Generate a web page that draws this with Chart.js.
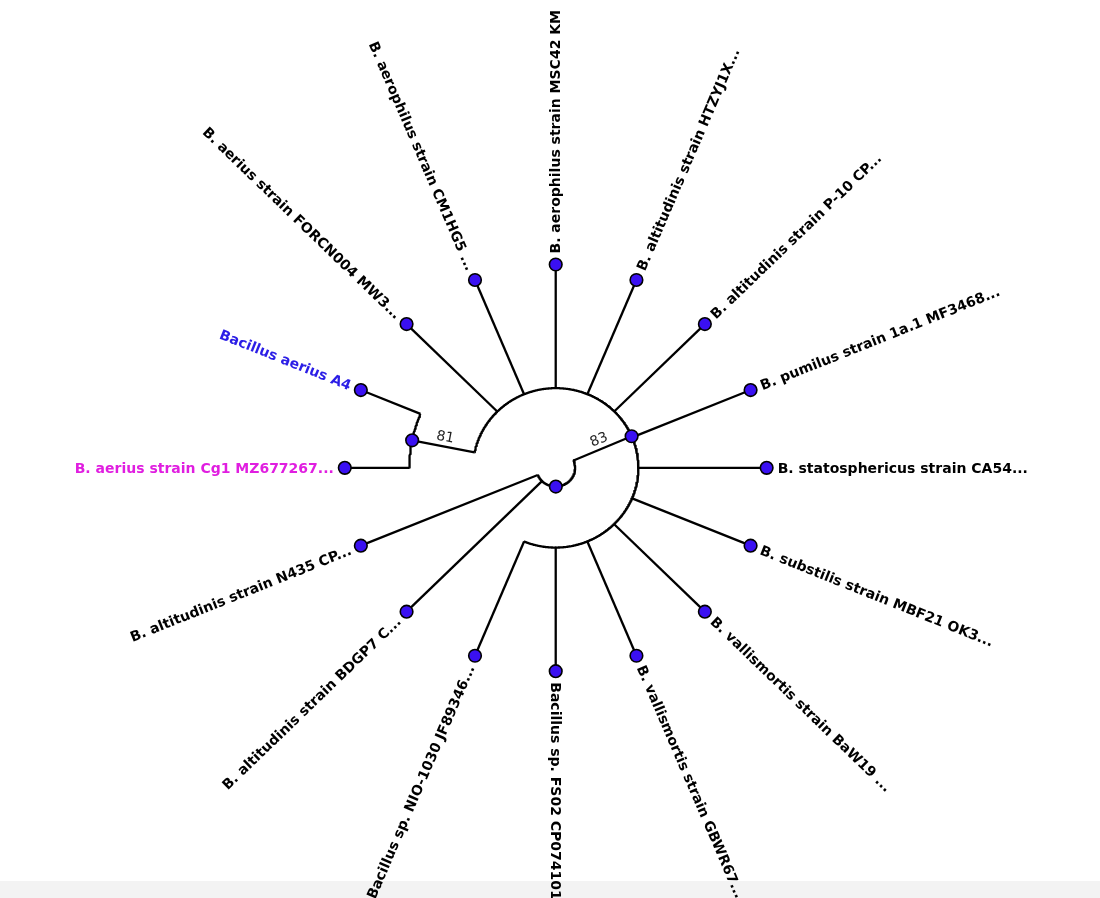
<!DOCTYPE html>
<html>
<head>
<meta charset="utf-8">
<script src="https://cdn.jsdelivr.net/npm/chart.js@4.4.1/dist/chart.umd.min.js"></script>
<style>
  html, body { margin: 0; padding: 0; background: #fff; }
  canvas { display: block; }
</style>
</head>
<body>
<canvas id="arvore" width="1100" height="898"></canvas>
<script>
// Folhas na ordem do desenho (sentido horário, começando à esquerda)
const folhas = [
  'B. aerius strain Cg1 MZ677267...',
  'Bacillus aerius A4',
  'B. aerius strain FORCN004 MW3...',
  'B. aerophilus strain CM1HG5 ...',
  'B. aerophilus strain MSC42 KM',
  'B. altitudinis strain HTZYJ1X...',
  'B. altitudinis strain P-10 CP...',
  'B. pumilus strain 1a.1 MF3468...',
  'B. statosphericus strain CA54...',
  'B. substilis strain MBF21 OK3...',
  'B. vallismortis strain BaW19 ...',
  'B. vallismortis strain GBWR67...',
  'Bacillus sp. FS02 CP074101',
  'Bacillus sp. NIO-1030 JF89346...',
  'B. altitudinis strain BDGP7 C...',
  'B. altitudinis strain N435 CP...'
];
const corFolha = [
  '#e01ee0', '#2b1de6', '#000', '#000', '#000', '#000', '#000', '#000',
  '#000', '#000', '#000', '#000', '#000', '#000', '#000', '#000'
];

// Nós internos (profundidade relativa: folhas = 1)
const nos = ['raiz', 'n83', 'n81'];
const profundidadeNo = [0.092, 0.392, 0.694];
const suporteNo = [null, 83, 81];
const filhosNo = [
  ['n83', 14, 15],
  ['n81', 2, 3, 4, 5, 6, 7, 8, 9, 10, 11, 12, 13],
  [0, 1]
];

const passo = 360 / folhas.length;

function anguloDe(id) {
  if (typeof id === 'number') return 180 - passo * id;
  const filhos = filhosNo[nos.indexOf(id)];
  return filhos.reduce((s, f) => s + anguloDe(f), 0) / filhos.length;
}
function raioDe(id) {
  return typeof id === 'number' ? 1 : profundidadeNo[nos.indexOf(id)];
}
function ponto(r, graus) {
  const a = graus * Math.PI / 180;
  return { x: r * Math.cos(a), y: r * Math.sin(a) };
}

// Montar os ramos (arcos + linhas radiais)
const ramos = [];
nos.forEach((no, k) => {
  const r = profundidadeNo[k];
  const angs = filhosNo[k].map(anguloDe);
  const a0 = Math.max(...angs), a1 = Math.min(...angs);
  const arco = [];
  for (let a = a0; a > a1; a -= 0.5) arco.push(ponto(r, a));
  arco.push(ponto(r, a1));
  ramos.push(arco);
  filhosNo[k].forEach(f => {
    const a = anguloDe(f);
    ramos.push([ponto(r, a), ponto(raioDe(f), a)]);
  });
});

const pontos = [];
folhas.forEach((_, i) => pontos.push(ponto(1, anguloDe(i))));
nos.forEach((no, k) => pontos.push(ponto(profundidadeNo[k], anguloDe(no))));

const datasets = [{
  data: pontos,
  pointRadius: 6.3,
  pointBackgroundColor: '#3a10f2',
  pointBorderColor: '#000',
  pointBorderWidth: 1.6,
  showLine: false,
  order: 0
}];
ramos.forEach(r => datasets.push({
  data: r,
  showLine: true,
  borderColor: '#000',
  borderWidth: 2.3,
  borderJoinStyle: 'round',
  pointRadius: 0,
  fill: false,
  order: 1
}));

// Fundo e faixa cinza embaixo
const fundo = {
  id: 'fundo',
  beforeDraw(chart) {
    const ctx = chart.ctx;
    ctx.save();
    ctx.fillStyle = '#ffffff';
    ctx.fillRect(0, 0, chart.width, chart.height);
    ctx.fillStyle = '#f3f3f3';
    ctx.fillRect(0, 881, chart.width, chart.height - 881);
    ctx.restore();
  }
};

// Rótulos das folhas e valores de suporte
const rotulos = {
  id: 'rotulos',
  afterDatasetsDraw(chart) {
    const ctx = chart.ctx;
    const ex = chart.scales.x, ey = chart.scales.y;
    const cx = ex.getPixelForValue(0), cy = ey.getPixelForValue(0);
    ctx.save();
    ctx.font = 'bold 14px "DejaVu Sans"';
    folhas.forEach((nome, i) => {
      const p = ponto(1, anguloDe(i));
      const px = ex.getPixelForValue(p.x), py = ey.getPixelForValue(p.y);
      const phi = Math.atan2(py - cy, px - cx);
      const esquerda = p.x < -1e-6;
      ctx.save();
      ctx.translate(px, py);
      ctx.rotate(esquerda ? phi + Math.PI : phi);
      ctx.fillStyle = corFolha[i];
      ctx.textAlign = esquerda ? 'right' : 'left';
      ctx.textBaseline = 'middle';
      ctx.fillText(nome, esquerda ? -11 : 11, 1);
      ctx.restore();
    });

    ctx.font = '14px "DejaVu Sans"';
    ctx.fillStyle = '#222';
    nos.forEach((no, k) => {
      if (suporteNo[k] == null) return;
      const pai = filhosNo.findIndex(fs => fs.includes(no));
      const a = anguloDe(no);
      const rMeio = (profundidadeNo[pai] + profundidadeNo[k]) / 2;
      const p = ponto(rMeio, a);
      const px = ex.getPixelForValue(p.x), py = ey.getPixelForValue(p.y);
      const phi = Math.atan2(py - cy, px - cx);
      const esquerda = p.x < 0;
      ctx.save();
      ctx.translate(px, py);
      ctx.rotate(esquerda ? phi + Math.PI : phi);
      ctx.textAlign = 'center';
      ctx.textBaseline = 'bottom';
      ctx.fillText(String(suporteNo[k]), 0, -2);
      ctx.restore();
    });
    ctx.restore();
  }
};

new Chart(document.getElementById('arvore'), {
  type: 'scatter',
  data: { datasets },
  options: {
    responsive: false,
    animation: false,
    events: [],
    layout: { padding: 0 },
    plugins: { legend: { display: false }, tooltip: { enabled: false } },
    scales: {
      x: { display: false, min: -555.8 / 214, max: (1100 - 555.8) / 214 },
      y: { display: false, min: -(898 - 468.2) / 207, max: 468.2 / 207 }
    }
  },
  plugins: [fundo, rotulos]
});
</script>
</body>
</html>
